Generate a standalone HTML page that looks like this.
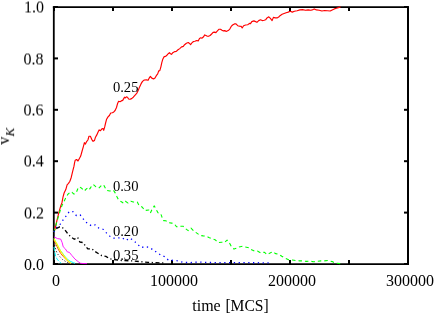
<!DOCTYPE html>
<html><head><meta charset="utf-8"><style>
html,body{margin:0;padding:0;background:#fff;}
svg{display:block;}
text{font-family:"Liberation Serif",serif;font-size:16px;fill:#000;}
</style></head><body>
<svg width="436" height="313" viewBox="0 0 436 313">
<rect width="436" height="313" fill="#fff"/>
<g stroke="#000" stroke-width="2" fill="none">
<line x1="53.8" y1="6.15" x2="53.8" y2="265.1" stroke-width="1.8"/><line x1="408" y1="6.15" x2="408" y2="265.1"/><line x1="52.9" y1="7.05" x2="409" y2="7.05" stroke-width="1.8"/><line x1="52.9" y1="264.2" x2="409" y2="264.2" stroke-width="1.8"/>
<line x1="54" y1="264" x2="54" y2="260"/><line x1="54" y1="7" x2="54" y2="11"/><line x1="113" y1="264" x2="113" y2="260"/><line x1="113" y1="7" x2="113" y2="11"/><line x1="172" y1="264" x2="172" y2="260"/><line x1="172" y1="7" x2="172" y2="11"/><line x1="231" y1="264" x2="231" y2="260"/><line x1="231" y1="7" x2="231" y2="11"/><line x1="290" y1="264" x2="290" y2="260"/><line x1="290" y1="7" x2="290" y2="11"/><line x1="349" y1="264" x2="349" y2="260"/><line x1="349" y1="7" x2="349" y2="11"/><line x1="408" y1="264" x2="408" y2="260"/><line x1="408" y1="7" x2="408" y2="11"/><line x1="54" y1="264.0" x2="58" y2="264.0"/><line x1="408" y1="264.0" x2="404" y2="264.0"/><line x1="54" y1="212.6" x2="58" y2="212.6"/><line x1="408" y1="212.6" x2="404" y2="212.6"/><line x1="54" y1="161.2" x2="58" y2="161.2"/><line x1="408" y1="161.2" x2="404" y2="161.2"/><line x1="54" y1="109.8" x2="58" y2="109.8"/><line x1="408" y1="109.8" x2="404" y2="109.8"/><line x1="54" y1="58.4" x2="58" y2="58.4"/><line x1="408" y1="58.4" x2="404" y2="58.4"/><line x1="54" y1="7.0" x2="58" y2="7.0"/><line x1="408" y1="7.0" x2="404" y2="7.0"/>
</g>
<g fill="none" stroke-width="1" stroke-linejoin="round">
<polyline stroke="#ff0000" stroke-width="1.15" points="54.0,232.0 54.8,229.5 56.8,221.2 58.9,212.3 60.9,205.4 61.9,202.9 63.0,197.2 64.1,193.0 65.8,189.6 67.1,184.8 68.5,183.4 69.9,181.3 71.3,177.2 72.6,171.7 74.0,166.2 74.6,162.7 75.2,160.2 76.6,159.5 78.0,161.0 79.4,158.5 80.7,156.1 82.1,151.0 83.5,146.1 84.4,142.7 85.4,144.1 86.8,141.3 87.9,140.0 89.0,136.2 90.4,136.2 91.7,139.3 93.1,141.3 94.5,140.4 95.5,137.2 96.8,134.9 98.2,131.7 99.2,129.9 100.5,130.7 101.9,128.9 103.0,128.5 103.7,130.3 104.7,126.9 105.6,123.0 106.6,119.2 108.0,116.9 109.4,115.5 110.7,113.0 112.4,112.8 113.8,111.9 115.1,110.5 116.5,107.5 117.6,103.4 118.6,101.3 120.0,101.7 121.3,100.9 122.7,100.4 123.7,98.6 124.5,97.2 125.5,97.9 126.4,96.8 127.5,97.2 128.6,99.0 130.0,99.3 131.6,98.6 133.3,97.2 135.1,95.1 136.9,93.1 138.3,90.3 139.6,86.9 141.0,83.9 142.5,81.4 144.3,80.0 146.4,79.9 148.1,80.3 149.2,78.1 150.4,76.4 151.8,78.1 153.6,78.9 155.0,78.1 156.3,75.7 157.7,73.9 158.7,70.9 159.8,70.6 160.9,66.8 161.8,62.6 162.8,59.2 163.9,56.9 165.3,56.4 166.4,55.8 167.8,54.1 169.4,52.7 170.5,53.7 171.5,54.4 172.8,52.7 174.9,51.6 176.3,51.4 177.7,50.0 179.7,48.6 181.6,46.9 182.6,46.6 183.3,46.4 184.6,44.7 186.4,43.2 188.3,42.5 189.2,43.2 190.6,44.6 192.2,42.5 193.6,41.5 194.9,41.3 196.7,40.5 198.2,40.9 199.5,38.4 200.7,37.8 201.8,38.2 203.6,36.7 204.7,34.9 205.9,35.5 207.0,36.1 208.5,36.3 210.1,35.5 211.6,34.0 213.1,32.4 214.5,32.1 215.9,32.6 217.4,30.9 219.1,29.2 220.5,29.2 222.0,30.3 223.4,30.9 224.8,30.6 226.2,31.5 228.2,30.6 229.8,29.1 231.2,26.4 232.6,25.0 234.4,23.9 236.0,23.9 237.7,25.7 239.4,26.1 241.2,26.4 242.2,28.0 243.6,25.7 245.6,25.0 247.7,24.7 249.5,23.4 250.5,23.6 251.8,21.6 253.9,20.9 255.5,21.6 256.9,22.3 258.7,20.6 260.5,19.8 262.2,20.6 264.2,20.2 265.6,19.8 267.0,17.9 268.8,16.8 270.4,18.4 272.1,20.6 273.4,17.4 275.2,17.9 277.0,17.9 278.7,17.0 280.0,15.7 282.1,14.3 284.1,13.5 286.1,12.7 288.2,12.1 290.3,11.3 292.3,12.1 294.4,11.3 297.1,10.7 299.9,9.9 302.6,9.6 305.4,10.3 308.1,9.9 310.9,10.3 313.0,9.6 314.3,8.9 316.4,9.9 319.2,10.3 321.9,11.0 324.7,10.5 327.4,10.7 330.2,11.0 332.2,9.9 334.3,8.9 336.4,8.3 338.4,7.6 340.5,6.9"/>
<polyline stroke="#00ff00" stroke-width="1.1" stroke-dasharray="3.5 3" points="54.0,232.0 54.8,229.5 56.5,223.0 58.2,217.1 60.3,210.2 62.0,205.5 63.7,202.0 65.8,197.8 67.8,194.4 70.6,191.7 72.0,192.3 74.0,194.1 76.1,193.0 78.1,188.2 79.5,186.8 81.6,188.2 84.3,191.0 86.4,188.9 88.5,187.2 89.8,188.9 91.9,185.5 93.3,184.5 96.0,186.8 98.8,188.2 101.5,185.5 103.6,184.8 105.0,187.5 106.4,190.3 109.8,191.0 113.5,190.3 115.3,193.1 116.7,196.2 118.1,199.0 119.9,200.9 121.8,202.0 123.6,203.4 125.4,201.3 128.1,203.1 130.9,201.3 133.2,202.0 137.3,202.0 139.1,205.5 142.4,207.2 144.6,210.5 148.8,210.0 150.4,213.0 152.1,209.2 154.3,205.9 156.2,209.6 158.0,212.8 160.7,213.7 162.1,217.4 163.6,220.6 165.8,220.7 168.3,222.7 171.7,223.1 174.4,223.8 176.5,226.8 180.0,226.2 183.1,226.2 185.5,228.6 188.2,230.6 191.0,228.2 194.1,231.3 197.2,233.4 200.2,235.5 203.3,235.9 206.1,236.1 208.8,237.5 212.3,238.9 215.0,239.7 218.2,242.5 221.6,242.2 224.4,242.6 227.1,240.1 229.4,242.9 231.5,246.7 234.0,249.1 237.0,248.1 239.1,247.0 242.5,246.3 245.0,247.0 248.7,247.7 251.1,249.5 254.6,251.1 257.4,251.1 260.7,252.8 264.3,252.2 267.0,254.6 270.0,253.1 272.8,251.6 275.6,253.6 278.7,254.3 281.8,256.3 285.6,258.4 288.6,259.8 292.5,260.0 295.5,260.5 299.7,260.9 303.1,260.9 306.5,261.4 310.0,261.1 313.4,261.8 316.9,261.4 321.0,260.9 323.7,260.9 328.0,260.5 332.3,261.6 335.0,263.1 342.4,263.9"/>
<polyline stroke="#0000ff" stroke-width="1.3" stroke-dasharray="1.3 3.5" points="54.0,232.0 54.8,229.5 57.5,226.8 60.9,223.5 63.7,218.9 66.4,215.7 69.2,211.6 72.9,211.6 76.5,215.7 80.2,215.0 83.4,219.1 85.0,221.6 88.1,223.5 91.6,226.0 95.3,224.9 98.8,228.1 103.5,229.5 106.6,233.1 109.9,236.2 113.5,238.2 117.9,237.9 122.0,237.6 125.9,240.4 130.0,238.2 133.7,240.6 137.4,244.1 141.0,247.5 144.3,246.8 148.9,247.2 153.4,250.0 157.5,253.0 160.6,254.9 164.4,256.6 168.2,259.9 173.2,260.4 178.3,260.9 183.3,262.4 190.9,262.6 198.5,262.0 210.0,262.5 230.0,262.7 250.0,262.7 271.0,262.9"/>
<polyline stroke="#000" stroke-width="1.35" stroke-dasharray="4 2.6 1.2 2.6" stroke-dashoffset="7" points="54.0,231.0 54.8,229.5 57.1,228.2 59.8,226.8 62.6,227.8 65.7,230.9 67.7,233.7 70.8,236.9 74.3,239.2 77.7,237.4 79.8,242.0 83.2,242.6 85.3,245.7 87.8,248.8 91.9,248.8 95.2,251.6 98.8,253.9 101.8,255.7 105.9,256.4 110.0,258.9 116.0,259.8 121.8,260.6 133.5,260.9 140.5,261.7 148.0,262.4 155.6,262.7 165.7,263.0"/>
<polyline stroke="#00ffff" stroke-width="1" stroke-dasharray="4 1.5" points="54.0,247.0 54.5,250.9 55.6,256.0 57.1,259.1 59.1,261.6 61.2,263.2"/>
<polyline stroke="#000" stroke-dasharray="1 2.2" points="54.0,242.0 55.0,246.3 56.1,250.9 57.6,254.0 60.2,257.0 62.7,259.6 65.8,261.6 69.0,263.2"/>
<polyline stroke="#ff4d00" stroke-width="1" points="54.0,240.0 55.6,243.7 57.1,246.8 58.6,249.9 60.7,253.4 63.2,256.5 65.8,259.1 68.4,261.6 69.9,263.0"/>
<polyline stroke="#00ffff" stroke-width="1" points="54.0,238.8 56.0,242.5 58.1,246.8 60.7,250.9 62.7,253.4 65.3,257.0 68.4,260.1 70.9,261.6 73.5,262.7 75.0,263.3"/>
<polyline stroke="#ffff00" stroke-width="1.2" points="54.0,238.5 55.0,240.7 56.6,243.2 58.6,247.3 60.7,251.4 62.7,254.0 64.8,257.0 67.3,260.1 69.4,262.1 71.0,263.3"/>
<polyline stroke="#ff00ff" stroke-width="0.9" points="54.0,236.9 54.5,237.1 57.6,238.6 60.7,239.1 62.2,242.7 63.2,246.8 65.3,248.8 67.3,251.9 69.4,252.4 71.9,255.5 75.0,259.1 78.1,261.6 80.6,263.3 83.0,263.5 87.0,263.6"/>
</g>
<filter id="ga" filterUnits="userSpaceOnUse" x="0" y="0" width="436" height="313"><feOffset dx="0" dy="0"/></filter>
<filter id="gh" filterUnits="userSpaceOnUse" x="0" y="0" width="436" height="313"><feOffset in="SourceGraphic" dx="0" dy="1" result="o1"/><feComposite in="SourceGraphic" in2="o1" operator="arithmetic" k1="0" k2="0.5" k3="0.5" k4="0"/></filter>
<g filter="url(#gh)">
<text x="44.05" y="218" text-anchor="end">0.2</text><text x="43.8" y="166" text-anchor="end">0.4</text><text x="43.6" y="115" text-anchor="end">0.6</text><text x="43.6" y="64" text-anchor="end">0.8</text><text x="44.1" y="12" text-anchor="end">1.0</text>
</g>
<g filter="url(#ga)">
<text x="56.0" y="286.2" text-anchor="middle">0</text><text x="174.0" y="286.2" text-anchor="middle">100000</text><text x="292.0" y="286.2" text-anchor="middle">200000</text><text x="410.0" y="286.2" text-anchor="middle">300000</text>
<text x="44.1" y="270" text-anchor="end">0.0</text>
<text x="192.25" y="310.8">time</text><text x="225.4" y="310.8" textLength="43.3" lengthAdjust="spacingAndGlyphs">[MCS]</text>
<g transform="translate(9.1,144.6) rotate(-90)"><text x="0" y="0">v<tspan font-style="italic" font-size="13.4px" dy="5.1">K</tspan></text></g>
<text x="112.9" y="92.2" style="font-size:14.6px">0.25</text>
<text x="112.9" y="190.7" style="font-size:14.6px">0.30</text>
<text x="112.9" y="236.3" style="font-size:14.6px">0.20</text>
<text x="112.9" y="259.8" style="font-size:14.6px">0.35</text>
</g>
</svg>
</body></html>
